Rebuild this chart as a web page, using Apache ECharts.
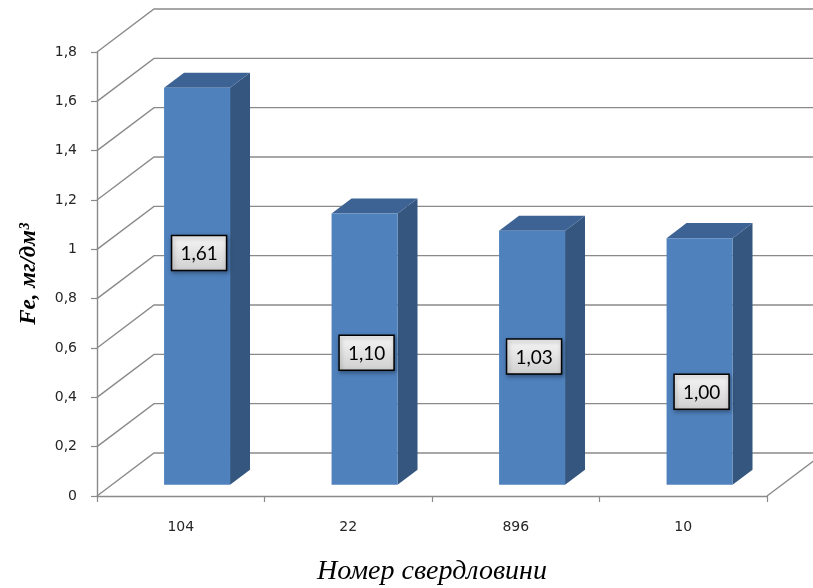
<!DOCTYPE html>
<html>
<head>
<meta charset="utf-8">
<script src="https://cdn.jsdelivr.net/npm/echarts@6/dist/echarts.min.js"></script>
<style>
  html, body { margin: 0; padding: 0; background: #fff; }
  #chart { width: 813px; height: 588px; }
</style>
</head>
<body>
<div id="chart"></div>
<script>
// Well numbers and iron concentration (mg/dm³)
const wells = ['104', '22', '896', '10'];
const ironValues = [1.61, 1.10, 1.03, 1.00];
const yTicks = [0, 0.2, 0.4, 0.6, 0.8, 1.0, 1.2, 1.4, 1.6, 1.8];

// Layout of the pseudo-3D box
const DEPTH_X = 57, DEPTH_Y = -43;           // full depth of the floor/back wall
const BAR_FRONT = 0.26, BAR_DEPTH = 0.35;    // bar front plane and thickness (fraction of depth)
const BAR_WIDTH = 0.394;                     // fraction of category band
const labelLevels = [0.94, 0.535, 0.52, 0.377]; // vertical anchor of each value box

const fmt = v => v.toFixed(2).replace('.', ',');

const chart = echarts.init(document.getElementById('chart'), null, { renderer: 'canvas' });

function renderWalls(params, api) {
  const cs = params.coordSys;
  const v = api.value(1);
  const p = api.coord([0, v]);
  const x0 = cs.x, y = p[1];
  const children = [{
    type: 'polyline',
    shape: { points: [[x0, y], [x0 + DEPTH_X, y + DEPTH_Y], [cs.x + cs.width + DEPTH_X, y + DEPTH_Y]] },
    style: { stroke: '#8a8a8a', lineWidth: 1.4, fill: null },
    silent: true
  }];
  if (v === 0) {
    const xr = cs.x + cs.width, yb = cs.y + cs.height;
    children.push({
      type: 'line',
      shape: { x1: xr, y1: yb, x2: xr + DEPTH_X, y2: yb + DEPTH_Y },
      style: { stroke: '#8a8a8a', lineWidth: 1.4 },
      silent: true
    });
  }
  return { type: 'group', children };
}

function renderBar(params, api) {
  const i = api.value(0);
  const v = api.value(1);
  const base = api.coord([i, 0]);
  const top = api.coord([i, v]);
  const bw = api.size([1, 0])[0] * BAR_WIDTH;
  const fx = BAR_FRONT * DEPTH_X, fy = BAR_FRONT * DEPTH_Y;
  const dx = BAR_DEPTH * DEPTH_X, dy = BAR_DEPTH * DEPTH_Y;
  const x0 = base[0] - bw / 2 + fx + 1.5, x1 = x0 + bw;
  const yb = base[1] + fy, yt = top[1] + fy;
  return {
    type: 'group',
    children: [
      { type: 'polygon', shape: { points: [[x1, yt], [x1 + dx, yt + dy], [x1 + dx, yb + dy], [x1, yb]] },
        style: { fill: '#34567f' } },
      { type: 'polygon', shape: { points: [[x0, yt], [x1, yt], [x1 + dx, yt + dy], [x0 + dx, yt + dy]] },
        style: { fill: '#3c6394' } },
      { type: 'rect', shape: { x: x0, y: yt, width: bw, height: yb - yt },
        style: { fill: '#4f81bd' } }
    ]
  };
}

function renderLabel(params, api) {
  const i = api.value(0);
  const v = api.value(1);
  const base = api.coord([i, 0]);
  const lvl = api.coord([i, labelLevels[params.dataIndex]]);
  const cx = base[0] + BAR_FRONT * DEPTH_X + 1.5 + 2;
  const cy = lvl[1] + BAR_FRONT * DEPTH_Y;
  const w = 55, h = 35;
  return {
    type: 'group',
    children: [
      { type: 'rect', shape: { x: cx - w / 2, y: cy - h / 2, width: w, height: h },
        style: {
          fill: new echarts.graphic.LinearGradient(0, 0, 0, 1, [
            { offset: 0, color: '#f7f7f7' }, { offset: 1, color: '#cfcfcf' }
          ]),
          stroke: '#000', lineWidth: 1.5,
          shadowBlur: 4, shadowColor: 'rgba(0,0,0,0.35)', shadowOffsetX: 1, shadowOffsetY: 2
        } },
      { type: 'text', x: cx, y: cy + 1,
        style: { text: fmt(v), fill: '#000', font: '19px Lato, "Open Sans", sans-serif',
                 align: 'center', verticalAlign: 'middle' } }
    ]
  };
}

chart.setOption({
  animation: false,
  backgroundColor: '#fff',
  grid: { left: 97, right: 46, top: 52, bottom: 92, containLabel: false, outerBoundsMode: 'none' },
  xAxis: {
    type: 'category',
    data: wells,
    boundaryGap: true,
    axisLine: { lineStyle: { color: '#8a8a8a', width: 1.4 } },
    axisTick: { show: true, length: 6, interval: 0, lineStyle: { color: '#8a8a8a', width: 1.2 } },
    axisLabel: { margin: 24, color: '#262626', fontFamily: 'DejaVu Sans', fontSize: 14 },
    name: 'Номер свердловини',
    nameLocation: 'middle',
    nameGap: 62,
    nameTextStyle: { fontFamily: '"Liberation Serif", serif', fontStyle: 'italic', fontSize: 28, color: '#000' }
  },
  yAxis: {
    type: 'value',
    min: 0, max: 1.8, interval: 0.2,
    axisLine: { show: true, lineStyle: { color: '#8a8a8a', width: 1.4 } },
    axisTick: { show: true, length: 6, lineStyle: { color: '#8a8a8a', width: 1.2 } },
    splitLine: { show: false },
    axisLabel: {
      margin: 20, color: '#262626', fontFamily: 'DejaVu Sans', fontSize: 14,
      formatter: v => (Math.round(v * 10) / 10).toString().replace('.', ',')
    },
    name: 'Fe, мг/дм³',
    nameLocation: 'middle',
    nameGap: 56,
    nameRotate: 90,
    nameTextStyle: { fontFamily: '"Liberation Serif", serif', fontStyle: 'italic', fontWeight: 'bold', fontSize: 23, color: '#000' }
  },
  series: [
    {
      type: 'custom', name: 'walls', z: 1, silent: true,
      renderItem: renderWalls,
      data: yTicks.map(t => [0, t]),
      encode: { x: 0, y: 1 },
      clip: false
    },
    {
      type: 'custom', name: 'Fe', z: 3,
      renderItem: renderBar,
      data: ironValues.map((v, i) => [i, v]),
      encode: { x: 0, y: 1 },
      clip: false
    },
    {
      type: 'custom', name: 'labels', z: 5, silent: true,
      renderItem: renderLabel,
      data: ironValues.map((v, i) => [i, v]),
      encode: { x: 0, y: 1 },
      clip: false
    }
  ]
});
</script>
</body>
</html>
